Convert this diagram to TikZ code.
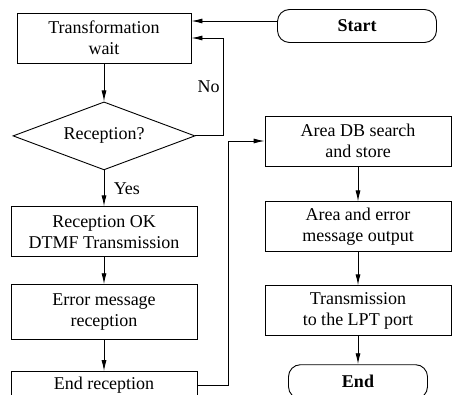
\documentclass[tikz,border=0pt]{standalone}
\usepackage{fontspec}
\setmainfont{Liberation Serif}
\usetikzlibrary{arrows.meta, positioning, shapes.geometric}

\begin{document}
\begin{tikzpicture}[
            x=1pt, y=-1pt,
            node distance=35pt,
            line width=0.9pt,
            txt/.style={font=\fontsize{18}{21}\selectfont},
            box/.style={txt, draw, minimum width=186pt, minimum height=50pt, align=center, inner sep=2pt},
            term/.style={box, rounded corners=12pt, font=\fontsize{18}{21}\selectfont\bfseries},
            decision/.style={txt, draw, diamond, aspect=2.7, inner sep=0pt, minimum width=182pt, minimum height=68pt},
            arr/.style={-{Latex[length=11pt, width=5pt]}}
        ]
            \useasboundingbox (0,0) rectangle (454,395);
            \clip (0,0) rectangle (454,395);

            % Left column
            \node[box, minimum width=174pt] (wait) at (104,38) {Transformation\\wait};
            \node[decision, below=38pt of wait] (recep) {Reception?};
            \node[box, below=36pt of recep] (recepok) {Reception OK\\DTMF Transmission};
            \node[box, below=27pt of recepok, minimum height=55pt] (error) {Error message\\reception};
            \node[box, below=31pt of error, minimum height=28pt] (endrec) {End reception};

            % Right column
            \node[term, minimum width=159pt, minimum height=33pt] (start) at (357,26) {Start};
            \node[box] (areadb) at (358,141) {Area DB search\\and store};
            \node[box, below=of areadb] (areaerr) {Area and error\\message output};
            \node[box, below=33pt of areaerr] (lpt) {Transmission\\to the LPT port};
            \node[term, below=28pt of lpt, minimum width=139pt, minimum height=34pt] (end) {End};
            \coordinate (jump) at (228,141);

            % Connections
            \draw[arr] ([yshift=5pt]start.west) -- ([yshift=5pt]start.west -| wait.east);
            \draw[arr] (wait) -- (recep);
            \draw[arr] (recep.east) -- ++(28,0) |- node[txt, pos=0.25, left] {No} (wait.east);
            \draw[arr] (recep) -- node[txt, right=6pt] {Yes} (recepok);
            \draw[arr] (recepok) -- (error);
            \draw[arr] (error) -- (endrec);
            \draw[arr] (endrec.east) -| (jump) -- (areadb);
            \draw[arr] (areadb) -- (areaerr);
            \draw[arr] (areaerr) -- (lpt);
            \draw[arr] (lpt) -- (end);
        \end{tikzpicture}
\end{document}
